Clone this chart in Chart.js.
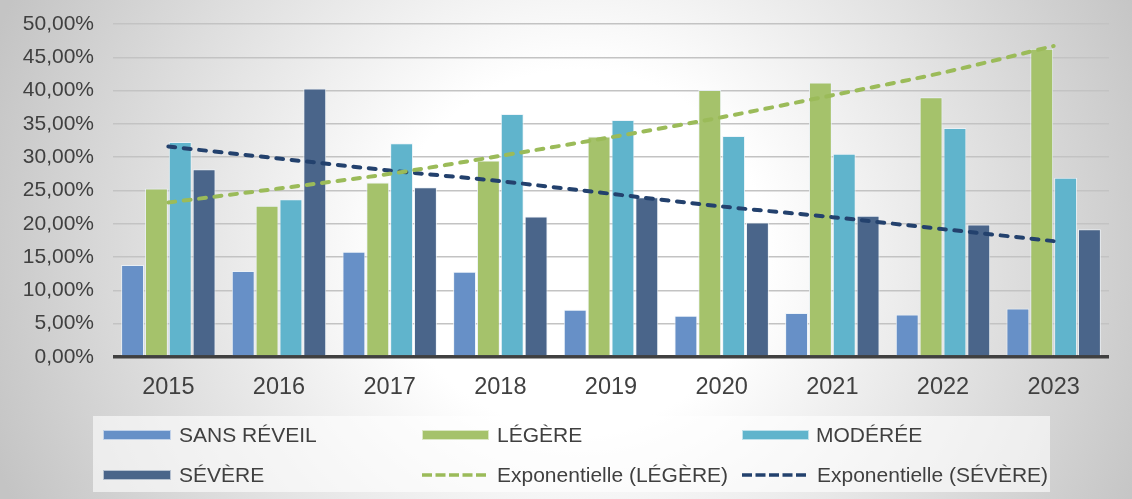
<!DOCTYPE html>
<html><head><meta charset="utf-8">
<script src="https://cdn.jsdelivr.net/npm/chart.js@4.4.1/dist/chart.umd.min.js"></script>
<style>
html,body{margin:0;padding:0;background:#fff;}
#wrap{position:relative;width:1132px;height:499px;overflow:hidden;
  background: radial-gradient(ellipse 55% 120% at 51% 50%, #ffffff 0%, #ffffff 30%, #c4c4c4 100%);}
#c{position:absolute;left:0;top:0;}
#legend{position:absolute;left:93px;top:416px;width:957px;height:76px;background:rgba(255,255,255,0.6);}
.lg-text{position:absolute;height:24px;line-height:24px;font-size:21px;font-family:"Liberation Sans",Arial,sans-serif;color:#404040;white-space:nowrap;}
.lg-sw{position:absolute;box-sizing:border-box;border:1px solid rgba(255,255,255,0.6);}
.lg-dash{position:absolute;}
</style></head>
<body>
<div id="wrap">
  <canvas id="c" width="1132" height="499"></canvas>
  <div id="legend"></div>
</div>
<script>
// ---- data ----
const years = ['2015','2016','2017','2018','2019','2020','2021','2022','2023'];
const sansReveil = [13.8, 12.9, 15.8, 12.8, 7.1, 6.2, 6.6, 6.4, 7.3];
const legere     = [25.3, 22.7, 26.2, 29.5, 33.1, 40.1, 41.2, 39.0, 46.3];
const moderee    = [32.3, 23.7, 32.1, 36.5, 35.6, 33.2, 30.5, 34.4, 26.9];
const severe     = [28.2, 40.3, 25.5, 21.1, 24.0, 20.2, 21.2, 19.9, 19.2];
const trendLegere = [23.2, 25.3, 27.5, 30.2, 33.0, 36.0, 39.3, 42.7, 46.7];
const trendSevere = [31.6, 29.8, 28.0, 26.4, 24.5, 22.6, 21.0, 19.2, 17.4];
const seriesNames = ['SANS RÉVEIL','LÉGÈRE','MODÉRÉE','SÉVÈRE','Exponentielle (LÉGÈRE)','Exponentielle (SÉVÈRE)'];

const colors = ['#6790c7','#a5c26b','#60b4cc','#4a658a','#9bbb59','#23416d'];
const FONT = '"Liberation Sans", Arial, sans-serif';

function bar(i, data){
  return {type:'bar', label:seriesNames[i], data:data, backgroundColor:colors[i],
    borderColor:'rgba(235,242,248,0.85)', borderWidth:1, order:2,
    barPercentage:0.96, categoryPercentage:0.862};
}
function trend(i, data){
  return {type:'line', label:seriesNames[i], data:data, borderColor:colors[i],
    borderWidth:4, borderDash:[7,8.5], borderCapStyle:'round', pointRadius:0,
    tension:0.3, fill:false, order:1};
}

const chart = new Chart(document.getElementById('c'), {
  data:{
    labels: years,
    datasets:[
      bar(0, sansReveil), bar(1, legere), bar(2, moderee), bar(3, severe),
      trend(4, trendLegere), trend(5, trendSevere)
    ]
  },
  options:{
    responsive:false, animation:false, devicePixelRatio:1,
    layout:{padding:{top:24, right:23, left:0, bottom:0}},
    plugins:{legend:{display:false}, tooltip:{enabled:false}},
    scales:{
      x:{
        grid:{display:false, drawTicks:false}, border:{display:false},
        ticks:{color:'#404040', font:{family:FONT, size:23.5}, padding:16, maxRotation:0},
        afterFit:(s)=>{ s.height = 142; s.paddingLeft = 0; s.paddingRight = 0; }
      },
      y:{
        min:0, max:50,
        border:{display:false},
        grid:{drawTicks:false,
          color:(ctx)=> ctx.tick && ctx.tick.value===0 ? '#404040' : '#c3c3c3',
          lineWidth:(ctx)=> ctx.tick && ctx.tick.value===0 ? 3.5 : 1.5},
        ticks:{stepSize:5, color:'#404040', font:{family:FONT, size:21}, padding:19,
          callback:(v)=> v.toFixed(2).replace('.',',') + '%'},
        afterFit:(s)=>{ s.width = 113; s.paddingTop = 0; s.paddingBottom = 0; }
      }
    }
  }
});

// ---- HTML legend (built from the chart's datasets) ----
const legend = document.getElementById('legend');
const LX = 93, LY = 416;
const slots = [
  {sx:103, sw:68, tx:179, cy:435},
  {sx:422, sw:67, tx:497, cy:435},
  {sx:742, sw:67, tx:816, cy:435},
  {sx:103, sw:68, tx:179, cy:475},
  {sx:421, sw:67, tx:497, cy:475},
  {sx:741, sw:68, tx:817, cy:475}
];
chart.data.datasets.forEach((ds, i) => {
  const s = slots[i];
  if (ds.type === 'bar') {
    const sw = document.createElement('div');
    sw.className = 'lg-sw';
    sw.style.left = (s.sx - LX) + 'px';
    sw.style.top = (s.cy - 5 - LY) + 'px';
    sw.style.width = s.sw + 'px';
    sw.style.height = '10px';
    sw.style.background = ds.backgroundColor;
    legend.appendChild(sw);
  } else {
    const ns = 'http://www.w3.org/2000/svg';
    const svg = document.createElementNS(ns, 'svg');
    svg.setAttribute('width', s.sw);
    svg.setAttribute('height', 8);
    svg.setAttribute('class', 'lg-dash');
    svg.style.left = (s.sx - LX) + 'px';
    svg.style.top = (s.cy - 4 - LY) + 'px';
    const ln = document.createElementNS(ns, 'line');
    ln.setAttribute('x1', 1); ln.setAttribute('x2', s.sw - 1);
    ln.setAttribute('y1', 4); ln.setAttribute('y2', 4);
    ln.setAttribute('stroke', ds.borderColor);
    ln.setAttribute('stroke-width', 3.5);
    ln.setAttribute('stroke-dasharray', '10 3.5');
    svg.appendChild(ln);
    legend.appendChild(svg);
  }
  const t = document.createElement('div');
  t.className = 'lg-text';
  t.textContent = ds.label;
  t.style.left = (s.tx - LX) + 'px';
  t.style.top = (s.cy - 12 - LY) + 'px';
  legend.appendChild(t);
});
</script>
</body></html>
